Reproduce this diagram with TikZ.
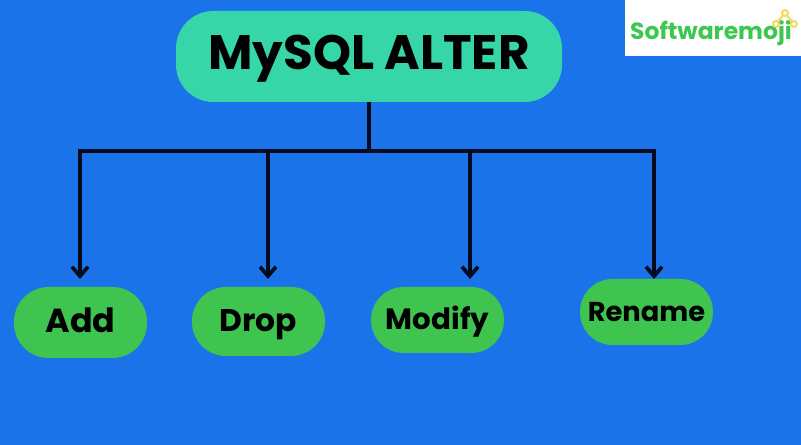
\documentclass[tikz,border=0pt]{standalone}
\usepackage{fontspec}
\setmainfont{Poppins}
\usepackage{xcolor}
\definecolor{colorBack}{HTML}{1A73E8}
\definecolor{colorTitle}{HTML}{36D6A8}
\definecolor{colorLeaf}{HTML}{3EC44F}
\definecolor{colorLine}{HTML}{050A1E}
\definecolor{colorLogo}{HTML}{3CC850}
\definecolor{colorIcon}{HTML}{F5D94E}
\usepackage{tikz}
\usetikzlibrary{arrows.meta}
\tikzset{
  pill/.style={draw=none, inner sep=0pt},
  leaf/.style={pill, fill=colorLeaf, minimum width=99.75pt, rounded corners=24.5pt, text height=18pt, text depth=3pt},
  wire/.style={draw=colorLine, line width=2.5pt},
  drop/.style={wire, -{Straight Barb[length=7pt, width=12pt, line width=2.8pt]}}
}
\begin{document}
\begin{tikzpicture}[x=0.75pt, y=-0.75pt]
\useasboundingbox (0,0) rectangle (801,445);
\fill[colorBack] (0,0) rectangle (801,445);
\node[fill=white, minimum width=132pt, minimum height=42pt, inner sep=0pt] (logo) at (713,28) {};
\node[text=colorLogo, font=\bfseries\fontsize{17.6}{17.6}\selectfont, inner sep=0pt] (logotext) at (711,33.5) {Softwaremoji};
\draw[colorIcon, line width=1.4pt] (776,24) circle (3) (785,13) circle (3) (794,24) circle (3);
\draw[colorIcon, line width=1.4pt] (778,21.5) -- (783,15.5) (787,15.5) -- (792,21.5);
\node[pill, fill=colorTitle, minimum width=289.5pt, minimum height=68.25pt, rounded corners=28pt, text height=26pt, text depth=6pt, font=\bfseries\fontsize{36.3}{36.3}\selectfont] (title) at (369,56.5) {MySQL ALTER};
\node[leaf, minimum height=53.25pt, rounded corners=26pt, font=\bfseries\fontsize{25}{25}\selectfont] (add) at (80.5,322.5) {Add};
\node[leaf, minimum height=51.75pt, rounded corners=25.5pt, font=\bfseries\fontsize{23.5}{23.5}\selectfont] (dropnode) at (258.5,321.5) {Drop};
\node[leaf, minimum height=49.5pt, font=\bfseries\fontsize{22}{22}\selectfont] (modify) at (437.5,320) {Modify};
\node[leaf, minimum height=49.5pt, font=\bfseries\fontsize{20.5}{20.5}\selectfont] (rename) at (646.5,312) {Rename};
\coordinate (busMid) at (369,151);
\coordinate (busAdd) at (80,151);
\coordinate (busDrop) at (268,151);
\coordinate (busModify) at (470,151);
\coordinate (busRename) at (654,151);
\coordinate (tipAdd) at (80,279);
\coordinate (tipDrop) at (268,279);
\coordinate (tipModify) at (470,279);
\coordinate (tipRename) at (654,279);
\draw[wire] (title.south -| busMid) -- (busMid);
\draw[wire, line cap=rect] (busAdd) -- (busRename);
\draw[drop] (busAdd) -- (tipAdd);
\draw[drop] (busDrop) -- (tipDrop);
\draw[drop] (busModify) -- (tipModify);
\draw[drop] (busRename) -- (tipRename);
\end{tikzpicture}
\end{document}
